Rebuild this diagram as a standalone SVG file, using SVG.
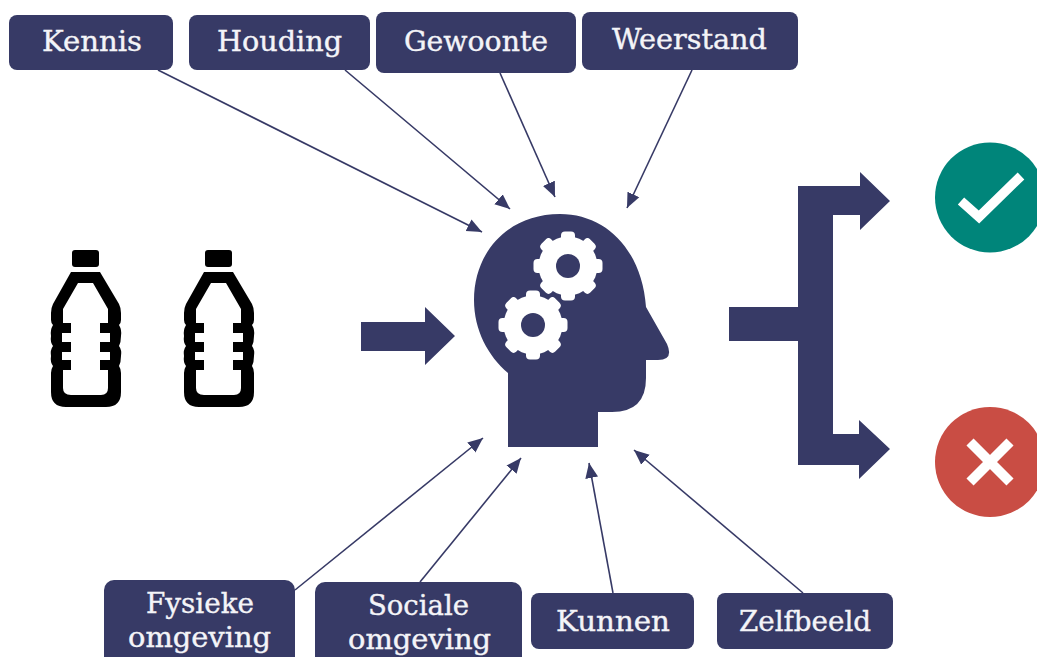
<svg xmlns="http://www.w3.org/2000/svg" xmlns:xlink="http://www.w3.org/1999/xlink" width="1037" height="657" viewBox="0 0 1037 657">
<style>
.box{fill:#373a66}
.lbl{fill:#f4f4f8;stroke:#f4f4f8;stroke-width:.35;font-family:"DejaVu Serif Condensed","DejaVu Serif","Liberation Serif",serif;font-size:27px}
.conn{stroke:#373a66;stroke-width:1.6;fill:none;marker-end:url(#ah)}
.navy{fill:#373a66}
</style>
<defs>
<marker id="ah" markerUnits="userSpaceOnUse" markerWidth="16" markerHeight="14" refX="15" refY="7" orient="auto"><path d="M0,0.5L15,7L0,13.5Z" fill="#373a66"/></marker>
<g id="bottle"><rect x="72" y="250" width="27" height="17" rx="3" fill="#000"/><path fill="#000" fill-rule="evenodd" d="M71,272H100L119,304Q121,308 121,313V320Q121,323 119,325Q122,330 121,336Q121,342 119,346Q122,350 121,356Q121,362 119,366Q121,369 121,373V392Q121,407 106,407H66Q51,407 51,392V373Q51,369 53,366Q50,362 51,356Q50,350 53,346Q50,342 51,336Q50,330 53,325Q51,323 51,320V313Q51,308 53,304ZM78,283L63,309V323H71V333H62V342H71V352H62V360H71V370H63V388Q63,395 71,395H101Q108,395 108,388V370H100V360H110V352H100V342H110V333H100V323H108V309L93,283Z"/></g>
<g id="gear" fill="#fff"><circle r="29.500"/><g id="t2"><rect x="-7" y="-34.500" width="14" height="69" rx="4"/><rect x="-7" y="-34.500" width="14" height="69" rx="4" transform="rotate(90)"/></g><use href="#t2" transform="rotate(45)"/></g>
</defs>
<rect width="1037" height="657" fill="#fff"/>
<g id="connectors">
<line class="conn" x1="158" y1="70" x2="482" y2="232"/>
<line class="conn" x1="345" y1="70" x2="510" y2="209"/>
<line class="conn" x1="500" y1="73" x2="555" y2="197"/>
<line class="conn" x1="692" y1="70" x2="627" y2="208"/>
<line class="conn" x1="295" y1="590" x2="483" y2="438"/>
<line class="conn" x1="420" y1="582" x2="521" y2="458"/>
<line class="conn" x1="613" y1="593" x2="589" y2="463"/>
<line class="conn" x1="803" y1="593" x2="634" y2="450"/>
</g>
<g id="node-kennis"><rect class="box" x="9" y="15" width="164" height="55" rx="8"/><text class="lbl" x="42" y="51" textLength="100" lengthAdjust="spacingAndGlyphs">Kennis</text></g>
<g id="node-houding"><rect class="box" x="189" y="15" width="181" height="55" rx="8"/><text class="lbl" x="217" y="51" textLength="125" lengthAdjust="spacingAndGlyphs">Houding</text></g>
<g id="node-gewoonte"><rect class="box" x="376" y="12" width="200" height="61" rx="8"/><text class="lbl" x="404" y="51" textLength="144" lengthAdjust="spacingAndGlyphs">Gewoonte</text></g>
<g id="node-weerstand"><rect class="box" x="582" y="12" width="216" height="58" rx="8"/><text class="lbl" x="612" y="49" textLength="155" lengthAdjust="spacingAndGlyphs">Weerstand</text></g>
<g id="node-fysieke"><rect class="box" x="104" y="580" width="191" height="90" rx="10"/><text class="lbl" x="146" y="613" textLength="108" lengthAdjust="spacingAndGlyphs">Fysieke</text><text class="lbl" x="128" y="647" textLength="143" lengthAdjust="spacingAndGlyphs">omgeving</text></g>
<g id="node-sociale"><rect class="box" x="315" y="582" width="207" height="90" rx="10"/><text class="lbl" x="368" y="615" textLength="101" lengthAdjust="spacingAndGlyphs">Sociale</text><text class="lbl" x="348" y="649" textLength="143" lengthAdjust="spacingAndGlyphs">omgeving</text></g>
<g id="node-kunnen"><rect class="box" x="531" y="593" width="163" height="56" rx="8"/><text class="lbl" x="556" y="631" textLength="114" lengthAdjust="spacingAndGlyphs">Kunnen</text></g>
<g id="node-zelfbeeld"><rect class="box" x="717" y="593" width="176" height="56" rx="8"/><text class="lbl" x="739" y="631" textLength="132" lengthAdjust="spacingAndGlyphs">Zelfbeeld</text></g>
<g id="node-bottles"><use href="#bottle"/><use href="#bottle" x="133"/></g>
<g id="node-head">
<path class="navy" d="M508,447H598V412H612Q646,412 646,378V360H658Q674,360 667,344L646,307C642,250 606,214 560,214C508,214 474,252 474,300C474,330 488,356 508,373Z"/>
<use href="#gear" x="568" y="266"/><circle class="navy" cx="568" cy="266" r="12"/>
<use href="#gear" x="533" y="325"/><circle class="navy" cx="533" cy="325" r="12"/>
</g>
<g id="node-arrow-in"><path class="navy" d="M361,322H425V307L455,336L425,365V351H361Z"/></g>
<g id="node-arrow-split"><path class="navy" d="M729,307H798V186H860V172L890,201L860,230V215H833V434H859V420L890,449L859,479V465H798V341H729Z"/></g>
<g id="node-yes"><circle cx="990" cy="197.500" r="55" fill="#00857a"/><path d="M961,201L979,217L1021,176" fill="none" stroke="#fff" stroke-width="9.500"/></g>
<g id="node-no"><circle cx="990" cy="462" r="55" fill="#c94d44"/><path d="M970,442L1010,482M1010,442L970,482" fill="none" stroke="#fff" stroke-width="10"/></g>
</svg>
